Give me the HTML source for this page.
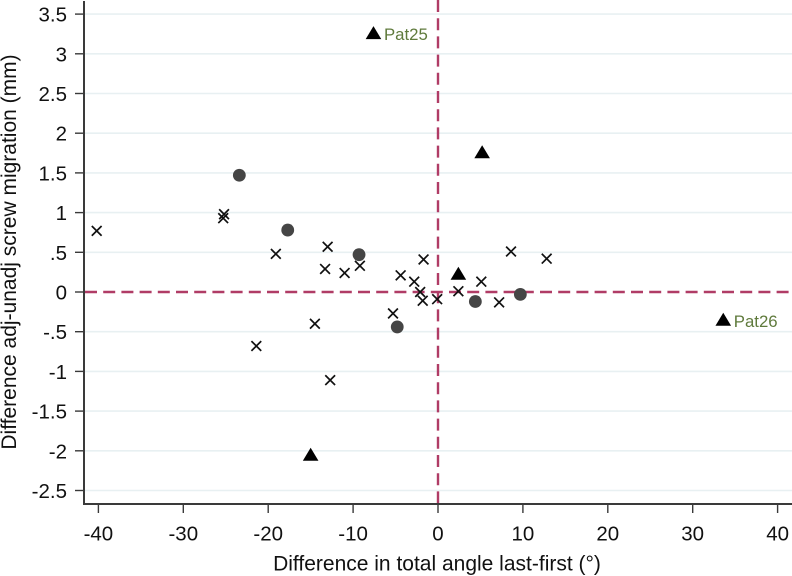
<!DOCTYPE html>
<html>
<head>
<meta charset="utf-8">
<title>Difference in screw migration vs total angle</title>
<style>
html,body{margin:0;padding:0;background:#fff;width:792px;height:576px;overflow:hidden}
svg{display:block;font-family:"Liberation Sans",sans-serif}
</style>
</head>
<body>
<svg id="chart" xmlns="http://www.w3.org/2000/svg" width="792" height="576" viewBox="0 0 792 576">
<rect x="0" y="0" width="792" height="576" fill="#ffffff"/>
<text x="437" y="570.5" font-size="21" text-anchor="middle" fill="#111">Difference in total angle last-first (°)</text>
<text transform="translate(16,252) rotate(-90)" font-size="21" text-anchor="middle" fill="#111">Difference adj-unadj screw migration (mm)</text>
</svg>
<script>
const xTicks = [-40, -30, -20, -10, 0, 10, 20, 30, 40];
const yTicks = [3.5, 3, 2.5, 2, 1.5, 1, 0.5, 0, -0.5, -1, -1.5, -2, -2.5];
const yTickLabels = ['3.5', '3', '2.5', '2', '1.5', '1', '.5', '0', '-.5', '-1', '-1.5', '-2', '-2.5'];
const crossX = [-40.2, -25.2, -25.3, -19.1, -13, -13.3, -11, -9.2, -4.4, -2.8, -1.7, -2.1, -1.8, -0.1, 2.4, 5.1, 7.2, 8.6, 12.8, -5.3, -14.5, -21.4, -12.7];
const crossY = [0.77, 0.98, 0.93, 0.48, 0.57, 0.29, 0.24, 0.33, 0.21, 0.13, 0.41, 0, -0.11, -0.09, 0.01, 0.13, -0.13, 0.51, 0.42, -0.27, -0.40, -0.68, -1.11];
const circleX = [-23.4, -17.7, -9.3, -4.8, 4.4, 9.7];
const circleY = [1.47, 0.78, 0.47, -0.44, -0.12, -0.03];
const triangleX = [-7.6, 5.2, 2.4, 33.6, -15];
const triangleY = [3.26, 1.76, 0.23, -0.35, -2.05];
const triangleLabels = ['Pat25', '', '', 'Pat26', ''];

const NS = 'http://www.w3.org/2000/svg';
const svg = document.getElementById('chart');
function sx(v) { return 438 + 8.49 * v; }
function sy(v) { return 292 - 79.4 * v; }
function add(tag, attrs) {
  const el = document.createElementNS(NS, tag);
  for (const k in attrs) el.setAttribute(k, attrs[k]);
  svg.appendChild(el);
  return el;
}

yTicks.forEach(function (v) {
  if (v === 0) return;
  const el = add('line', { x1: 85, x2: 792, y1: sy(v), y2: sy(v), stroke: '#e8f0f2', 'stroke-width': 1.6 });
  
  
});

const refH = add('line', { x1: 85, x2: 792, y1: sy(0), y2: sy(0), stroke: '#b03c66', 'stroke-width': 2.4, 'stroke-dasharray': '12 6.2' });


const refV = add('line', { x1: sx(0), x2: sx(0), y1: 0, y2: 504, stroke: '#b03c66', 'stroke-width': 2.4, 'stroke-dasharray': '12 6.2' });



const axisY = add('line', { x1: 84, x2: 84, y1: 1, y2: 505, stroke: '#3a3a3a', 'stroke-width': 2 });


const axisX = add('line', { x1: 83, x2: 792, y1: 504, y2: 504, stroke: '#3a3a3a', 'stroke-width': 2 });



yTicks.forEach(function (v, i) {
  const t = add('line', { x1: 75, x2: 84, y1: sy(v), y2: sy(v), stroke: '#3a3a3a', 'stroke-width': 1.4 });
  
  
  const l = add('text', { x: 67, y: sy(v) + 7.5, 'font-size': 20.5, 'text-anchor': 'end', fill: '#111' });
  
  
  l.textContent = yTickLabels[i];
});

xTicks.forEach(function (v) {
  const t = add('line', { x1: sx(v), x2: sx(v), y1: 504, y2: 513, stroke: '#3a3a3a', 'stroke-width': 1.4 });
  
  
  const l = add('text', { x: sx(v), y: 540.5, 'font-size': 20.5, 'text-anchor': 'middle', fill: '#111' });
  
  
  l.textContent = String(v);
});

crossX.forEach(function (v, i) {
  const cx = sx(v), cy = sy(crossY[i]), r = 4.9;
  const p = add('path', { d: 'M' + (cx - r) + ' ' + (cy - r) + 'L' + (cx + r) + ' ' + (cy + r) + 'M' + (cx - r) + ' ' + (cy + r) + 'L' + (cx + r) + ' ' + (cy - r), stroke: '#111', 'stroke-width': 1.7, fill: 'none' });
  
  
});

circleX.forEach(function (v, i) {
  const c = add('circle', { cx: sx(v), cy: sy(circleY[i]), r: 6.4, fill: '#454545' });
  
  
});

triangleX.forEach(function (v, i) {
  const cx = sx(v), cy = sy(triangleY[i]);
  const p = add('path', { d: 'M' + cx + ' ' + (cy - 7) + 'L' + (cx + 7.8) + ' ' + (cy + 6) + 'L' + (cx - 7.8) + ' ' + (cy + 6) + 'Z', fill: '#000' });
  
  
  if (triangleLabels[i]) {
    const l = add('text', { x: cx + 10.5, y: cy + 7, 'font-size': 16.8, fill: '#5f7a3c' });
    
    
    l.textContent = triangleLabels[i];
  }
});
</script>
</body>
</html>
